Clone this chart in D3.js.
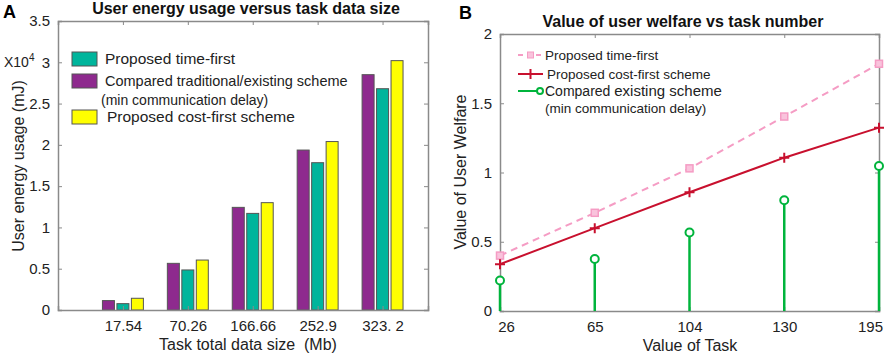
<!DOCTYPE html>
<html>
<head>
<meta charset="utf-8">
<script src="https://cdn.jsdelivr.net/npm/d3@7"></script>
<style>
  body { margin: 0; background: #fff; }
  svg { font-family: "Liberation Sans", Arial, sans-serif; }
</style>
</head>
<body>
<div id="chart"></div>
<script>
// ---- data: panel A (energy, x10^4 mJ) ----
const dataSizes = ['17.54', '70.26', '166.66', '252.9', '323. 2']
const comparedEnergy = [0.114, 0.565, 1.243, 1.937, 2.85]
const timeFirstEnergy = [0.077, 0.485, 1.17, 1.784, 2.68]
const costFirstEnergy = [0.142, 0.605, 1.30, 2.04, 3.02]
const energyTicks = [0, 0.5, 1, 1.5, 2, 2.5, 3, 3.5]

// ---- data: panel B (user welfare) ----
const taskValues = ['26', '65', '104', '130', '195']
const timeFirstWelfare = [0.40, 0.709, 1.03, 1.404, 1.785]
const costFirstWelfare = [0.338, 0.598, 0.857, 1.107, 1.324]
const existingWelfare = [0.22, 0.376, 0.567, 0.799, 1.047]
const welfareTicks = [0, 0.5, 1, 1.5, 2]

const colors = {
    purple: '#8e2a8e',
    teal: '#00b59c',
    yellow: '#ffff00',
    pink: '#f59cc4',
    red: '#c8102e',
    green: '#00b43c',
    axis: '#8a8a8a'
}

const svg = d3.select('#chart').append('svg')
    .attr('width', 886)
    .attr('height', 356)

const plainFmt = d => String(d)

function styleAxis(g) {
    g.select('.domain').attr('stroke', colors.axis).attr('stroke-width', 1.5)
    g.selectAll('.tick line').attr('stroke', colors.axis)
    g.selectAll('.tick text').attr('fill', '#222').style('font-size', '15px')
        .style('font-family', '"Liberation Sans", Arial, sans-serif')
}

// ================= Panel A =================
const A = { left: 58, right: 428, top: 21, bottom: 310 }
const gA = svg.append('g')

const xA = d3.scaleLinear().domain([0, 5.7]).range([A.left, A.right])
const yA = d3.scaleLinear().domain([0, 3.5]).range([A.bottom, A.top])

const yAxisA = d3.axisLeft(yA).tickValues(energyTicks).tickSize(-4).tickPadding(8).tickFormat(plainFmt)
const yAxisARight = d3.axisRight(yA).tickValues(energyTicks).tickSize(-4).tickFormat('')
const xAxisA = d3.axisBottom(xA).tickValues([1, 2, 3, 4, 5]).tickSize(-4).tickPadding(10)
    .tickFormat(d => dataSizes[d - 1])
const xAxisATop = d3.axisTop(xA).tickValues([1, 2, 3, 4, 5]).tickSize(-4).tickFormat('')

// bars
const barW = 12
const groups = [
    { values: comparedEnergy, color: colors.purple, offset: -0.223 },
    { values: timeFirstEnergy, color: colors.teal, offset: 0 },
    { values: costFirstEnergy, color: colors.yellow, offset: 0.223 }
]
groups.forEach(s => {
    gA.selectAll(null)
        .data(s.values)
        .join('rect')
        .attr('x', (d, i) => xA(i + 1 + s.offset) - barW / 2)
        .attr('y', d => yA(d))
        .attr('width', barW)
        .attr('height', d => yA(0) - yA(d))
        .attr('fill', s.color)
        .attr('stroke', '#555')
        .attr('stroke-width', 1)
})

gA.append('g').attr('transform', `translate(${A.left},0)`).call(yAxisA).call(styleAxis)
gA.append('g').attr('transform', `translate(${A.right},0)`).call(yAxisARight).call(styleAxis)
gA.append('g').attr('transform', `translate(0,${A.bottom})`).call(xAxisA).call(styleAxis)
gA.append('g').attr('transform', `translate(0,${A.top})`).call(xAxisATop).call(styleAxis)

// multiplier
const mult = gA.append('text').attr('x', 4).attr('y', 67).attr('fill', '#222').style('font-size', '14px')
mult.append('tspan').text('X10')
mult.append('tspan').attr('dy', -6).style('font-size', '10px').text('4')

// titles / labels
svg.append('text').attr('x', 3).attr('y', 18).style('font-size', '18px').style('font-weight', 'bold').text('A')
gA.append('text').attr('x', 246).attr('y', 14).attr('text-anchor', 'middle')
    .style('font-size', '16px').style('font-weight', 'bold').attr('fill', '#111')
    .text('User energy usage versus task data size')
gA.append('text').attr('x', 248).attr('y', 350).attr('text-anchor', 'middle')
    .style('font-size', '16px').attr('fill', '#222').attr('xml:space', 'preserve')
    .text('Task total data size  (Mb)')
gA.append('text').attr('transform', 'translate(24,166) rotate(-90)').attr('text-anchor', 'middle')
    .style('font-size', '16px').attr('fill', '#222')
    .text('User energy usage (mJ)')

// legend A
const legA = [
    { color: colors.teal, y: 52, size: '15.5px', lines: ['Proposed time-first'] },
    { color: colors.purple, y: 74, size: '14.5px', lines: ['Compared traditional/existing scheme', '(min communication delay)'] },
    { color: colors.yellow, y: 110, size: '15.5px', lines: ['Proposed cost-first scheme'] }
]
legA.forEach((l, i) => {
    gA.append('rect').attr('x', 72).attr('y', l.y).attr('width', 25).attr('height', 14)
        .attr('fill', l.color).attr('stroke', '#555')
    l.lines.forEach((t, j) => {
        gA.append('text').attr('x', j ? 101 : (i === 2 ? 107 : 105)).attr('y', l.y + 12 + j * 19)
            .style('font-size', j ? '14px' : l.size).attr('fill', '#222').text(t)
    })
})

// ================= Panel B =================
const B = { left: 500, right: 879, top: 34, bottom: 311 }
const gB = svg.append('g')
const xB = d3.scalePoint().domain(taskValues).range([B.left, B.right])
const yB = d3.scaleLinear().domain([0, 2]).range([B.bottom, B.top])

gB.append('g').attr('transform', `translate(${B.left},0)`)
    .call(d3.axisLeft(yB).tickValues(welfareTicks).tickSize(-4).tickPadding(8).tickFormat(plainFmt)).call(styleAxis)
gB.append('g').attr('transform', `translate(${B.right},0)`)
    .call(d3.axisRight(yB).tickValues(welfareTicks).tickSize(-4).tickFormat('')).call(styleAxis)
gB.append('g').attr('transform', `translate(0,${B.bottom})`)
    .call(d3.axisBottom(xB).tickSize(-4).tickPadding(10)).call(styleAxis)
gB.append('g').attr('transform', `translate(0,${B.top})`)
    .call(d3.axisTop(xB).tickSize(-4).tickFormat('')).call(styleAxis)
gB.selectAll('.tick text').each(function (d) {
    if (d === '26') d3.select(this).attr('dx', 6)
    if (d === '195') d3.select(this).attr('dx', -9)
})

// stems
gB.selectAll('.stem')
    .data(existingWelfare)
    .join('line')
    .attr('class', 'stem')
    .attr('x1', (d, i) => xB(taskValues[i])).attr('x2', (d, i) => xB(taskValues[i]))
    .attr('y1', yB(0)).attr('y2', d => yB(d))
    .attr('stroke', colors.green).attr('stroke-width', 2.5)
gB.selectAll('.stem-dot')
    .data(existingWelfare)
    .join('circle')
    .attr('class', 'stem-dot')
    .attr('cx', (d, i) => xB(taskValues[i])).attr('cy', d => yB(d)).attr('r', 4)
    .attr('fill', '#fff').attr('stroke', colors.green).attr('stroke-width', 2)

const line = d3.line().x((d, i) => xB(taskValues[i])).y(d => yB(d))

gB.append('path').datum(timeFirstWelfare).attr('d', line)
    .attr('fill', 'none').attr('stroke', colors.pink).attr('stroke-width', 2).attr('stroke-dasharray', '7,5')
gB.selectAll('.sq')
    .data(timeFirstWelfare)
    .join('rect')
    .attr('class', 'sq')
    .attr('x', (d, i) => xB(taskValues[i]) - 3.5).attr('y', d => yB(d) - 3.5)
    .attr('width', 7).attr('height', 7)
    .attr('fill', '#f9c3dc').attr('stroke', colors.pink).attr('stroke-width', 1.5)

gB.append('path').datum(costFirstWelfare).attr('d', line)
    .attr('fill', 'none').attr('stroke', colors.red).attr('stroke-width', 2)
gB.selectAll('.plus')
    .data(costFirstWelfare)
    .join('path')
    .attr('class', 'plus')
    .attr('d', (d, i) => {
        const x = xB(taskValues[i]), y = yB(d)
        return `M${x - 5},${y}H${x + 5}M${x},${y - 5}V${y + 5}`
    })
    .attr('stroke', colors.red).attr('stroke-width', 2)

// titles / labels
svg.append('text').attr('x', 459).attr('y', 19).style('font-size', '18px').style('font-weight', 'bold').text('B')
gB.append('text').attr('x', 683).attr('y', 27).attr('text-anchor', 'middle')
    .style('font-size', '16px').style('font-weight', 'bold').attr('fill', '#111')
    .text('Value of user welfare vs task number')
gB.append('text').attr('x', 690).attr('y', 351).attr('text-anchor', 'middle')
    .style('font-size', '16px').attr('fill', '#222').text('Value of Task')
gB.append('text').attr('transform', 'translate(466,172) rotate(-90)').attr('text-anchor', 'middle')
    .style('font-size', '16px').attr('fill', '#222').text('Value of User Welfare')

// legend B
const lx = 518, lw = 25
gB.append('line').attr('x1', lx).attr('x2', lx + lw).attr('y1', 55).attr('y2', 55)
    .attr('stroke', colors.pink).attr('stroke-width', 2).attr('stroke-dasharray', '5,4')
gB.append('rect').attr('x', lx + lw / 2 - 3).attr('y', 52).attr('width', 6).attr('height', 6)
    .attr('fill', '#f9c3dc').attr('stroke', colors.pink)
gB.append('text').attr('x', 545).attr('y', 60).style('font-size', '13.5px').attr('fill', '#222').text('Proposed time-first')

gB.append('line').attr('x1', lx).attr('x2', lx + lw).attr('y1', 74).attr('y2', 74)
    .attr('stroke', colors.red).attr('stroke-width', 2)
gB.append('path').attr('d', `M${lx + lw / 2 - 5},74H${lx + lw / 2 + 5}M${lx + lw / 2},69V79`)
    .attr('stroke', colors.red).attr('stroke-width', 2)
gB.append('text').attr('x', 547).attr('y', 79).style('font-size', '13.5px').attr('fill', '#222').text('Proposed cost-first scheme')

gB.append('line').attr('x1', lx).attr('x2', lx + lw).attr('y1', 91).attr('y2', 91)
    .attr('stroke', colors.green).attr('stroke-width', 2)
gB.append('circle').attr('cx', lx + lw - 3).attr('cy', 91).attr('r', 3)
    .attr('fill', '#fff').attr('stroke', colors.green).attr('stroke-width', 2)
const lt = gB.append('text').attr('x', 545).attr('y', 96).attr('fill', '#222')
lt.append('tspan').style('font-size', '14px').text('Compared ')
lt.append('tspan').style('font-size', '15px').text('existing scheme')
gB.append('text').attr('x', 545).attr('y', 113).style('font-size', '13.5px').attr('fill', '#222').text('(min communication delay)')
</script>
</body>
</html>
